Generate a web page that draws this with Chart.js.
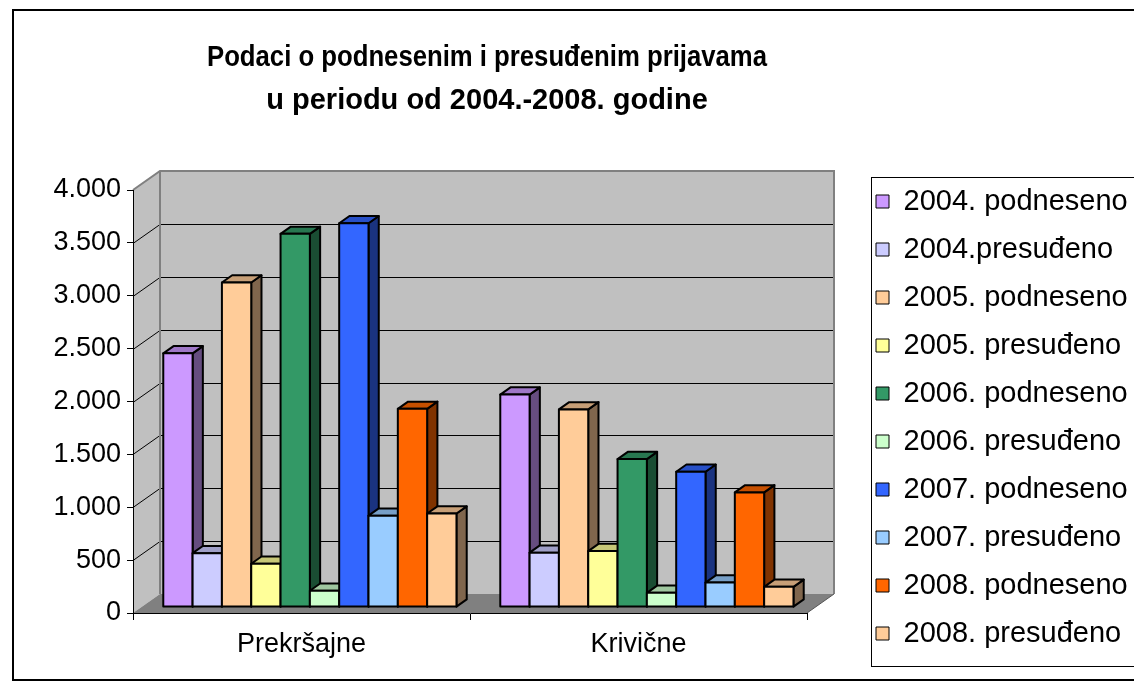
<!DOCTYPE html>
<html>
<head>
<meta charset="utf-8">
<script src="https://cdn.jsdelivr.net/npm/chart.js@4.4.1/dist/chart.umd.min.js"></script>
<style>
  html, body { margin: 0; padding: 0; background: #fff; overflow: hidden; }
  #chart { display: block; }
</style>
</head>
<body>
<canvas id="chart" width="1160" height="688"></canvas>
<script>
const categories = ['Prekršajne', 'Krivične'];
const seriesNames = [
  '2004. podneseno', '2004.presuđeno',
  '2005. podneseno', '2005. presuđeno',
  '2006. podneseno', '2006. presuđeno',
  '2007. podneseno', '2007. presuđeno',
  '2008. podneseno', '2008. presuđeno'
];
// one array per series: [Prekršajne, Krivične]
const podneseno2004 = [2400, 2010];
const presudjeno2004 = [510, 515];
const podneseno2005 = [3070, 1870];
const presudjeno2005 = [410, 530];
const podneseno2006 = [3530, 1400];
const presudjeno2006 = [155, 135];
const podneseno2007 = [3630, 1280];
const presudjeno2007 = [865, 232];
const podneseno2008 = [1875, 1085];
const presudjeno2008 = [885, 192];
const seriesColors = ['#CC99FF', '#CCCCFF', '#FFCC99', '#FFFF99', '#339966',
                      '#CCFFCC', '#3366FF', '#99CCFF', '#FF6600', '#FFCC99'];
const yTicks = { min: 0, max: 4000, step: 500 };

const FONT = 'Arial, "Liberation Sans", sans-serif';
Chart.defaults.font.family = FONT;

const allSeries = [podneseno2004, presudjeno2004, podneseno2005, presudjeno2005,
  podneseno2006, presudjeno2006, podneseno2007, presudjeno2007, podneseno2008, presudjeno2008];

// oblique depth of the 3d box, bars sit in the middle of it
const depth = { dx: 27, dy: -19 };
const barNear = 0.31, barFar = 0.69;

function shade(hex, f) {
  const n = parseInt(hex.slice(1), 16);
  const r = Math.round(((n >> 16) & 255) * f);
  const g = Math.round(((n >> 8) & 255) * f);
  const b = Math.round((n & 255) * f);
  return `rgb(${r},${g},${b})`;
}

function poly(ctx, pts) {
  ctx.beginPath();
  ctx.moveTo(pts[0][0], pts[0][1]);
  for (let i = 1; i < pts.length; i++) ctx.lineTo(pts[i][0], pts[i][1]);
  ctx.closePath();
}

const fmt = v => String(v).replace(/\B(?=(\d{3})+(?!\d))/g, '.');

const box3d = {
  id: 'box3d',
  afterLayout(chart) {
    // put title and legend where excel had them
    const t = chart.titleBlock;
    t.left = 207; t.right = 767; t.width = 560;
    const lg = chart.legend;
    lg.left = 857; lg.top = 168; lg.right = chart.width; lg.bottom = chart.height;
    lg.width = lg.right - lg.left; lg.height = lg.bottom - lg.top;
  },
  beforeDraw(chart) {
    const ctx = chart.ctx, a = chart.chartArea, ys = chart.scales.y;
    const { dx, dy } = depth;
    ctx.save();
    ctx.fillStyle = '#fff';
    ctx.fillRect(0, 0, chart.width, chart.height);
    ctx.strokeStyle = '#000';
    ctx.lineWidth = 2;
    ctx.strokeRect(13, 10, chart.width, 670);

    // back wall + side wall
    ctx.fillStyle = '#c0c0c0';
    ctx.fillRect(a.left + dx, a.top + dy, a.width, a.height);
    poly(ctx, [[a.left, a.top], [a.left + dx, a.top + dy], [a.left + dx, a.bottom + dy], [a.left, a.bottom]]);
    ctx.fill();

    // gridlines on both walls
    ctx.strokeStyle = '#000';
    ctx.lineWidth = 1;
    ys.ticks.forEach(t => {
      if (t.value <= ys.min || t.value >= ys.max) return;
      const py = Math.round(ys.getPixelForValue(t.value)) + 0.5;
      ctx.beginPath();
      ctx.moveTo(a.left, py);
      ctx.lineTo(a.left + dx, py + dy);
      ctx.lineTo(a.right + dx, py + dy);
      ctx.stroke();
    });

    // wall edges
    ctx.strokeStyle = '#808080';
    ctx.lineWidth = 2;
    ctx.beginPath();
    ctx.moveTo(a.left, a.top);
    ctx.lineTo(a.left + dx, a.top + dy);
    ctx.lineTo(a.right + dx, a.top + dy);
    ctx.lineTo(a.right + dx, a.bottom + dy);
    ctx.moveTo(a.left + dx, a.top + dy);
    ctx.lineTo(a.left + dx, a.bottom + dy);
    ctx.stroke();

    // floor
    ctx.fillStyle = '#808080';
    poly(ctx, [[a.left, a.bottom], [a.right, a.bottom], [a.right + dx, a.bottom + dy], [a.left + dx, a.bottom + dy]]);
    ctx.fill();
    ctx.strokeStyle = '#555';
    ctx.lineWidth = 1;
    ctx.beginPath();
    ctx.moveTo(a.right, a.bottom);
    ctx.lineTo(a.right + dx, a.bottom + dy);
    ctx.stroke();
    ctx.restore();
  },
  beforeDatasetDraw() {
    return false;
  },
  afterDatasetsDraw(chart) {
    const ctx = chart.ctx;
    const fx = depth.dx * barNear, fy = depth.dy * barNear;
    const bx = depth.dx * (barFar - barNear), by = depth.dy * (barFar - barNear);
    ctx.save();
    ctx.strokeStyle = '#000';
    ctx.lineWidth = 2;
    ctx.lineJoin = 'round';
    categories.forEach((c, i) => {
      chart.data.datasets.forEach((ds, d) => {
        const bar = chart.getDatasetMeta(d).data[i];
        const { x, y, base, width } = bar.getProps(['x', 'y', 'base', 'width'], true);
        const L = x - width / 2 + fx, R = x + width / 2 + fx;
        const T = y + fy, B = base + fy;
        const col = ds.backgroundColor;

        poly(ctx, [[R, T], [R + bx, T + by], [R + bx, B + by], [R, B]]);
        ctx.fillStyle = shade(col, 0.5);
        ctx.fill(); ctx.stroke();

        poly(ctx, [[L, T], [R, T], [R + bx, T + by], [L + bx, T + by]]);
        ctx.fillStyle = shade(col, 0.78);
        ctx.fill(); ctx.stroke();

        poly(ctx, [[L, T], [R, T], [R, B], [L, B]]);
        ctx.fillStyle = col;
        ctx.fill(); ctx.stroke();
      });
    });
    ctx.restore();
  },
  afterDraw(chart) {
    const ctx = chart.ctx;
    ctx.save();
    ctx.strokeStyle = '#000';
    ctx.lineWidth = 1;
    ctx.strokeRect(871.5, 177.5, 400, 489);
    ctx.restore();
  }
};

new Chart(document.getElementById('chart'), {
  type: 'bar',
  data: {
    labels: categories,
    datasets: seriesNames.map((name, i) => ({
      label: name,
      data: allSeries[i],
      backgroundColor: seriesColors[i],
      borderColor: '#000',
      borderWidth: 1
    }))
  },
  options: {
    responsive: false,
    animation: false,
    devicePixelRatio: 1,
    layout: { padding: { left: 0, top: 0, right: 353, bottom: 0 } },
    datasets: { bar: { categoryPercentage: 0.87, barPercentage: 1.0 } },
    plugins: {
      title: {
        display: true,
        text: ['Podaci o podnesenim i presuđenim prijavama', 'u periodu od 2004.-2008. godine'],
        color: '#000',
        font: { size: 29, weight: 'bold', lineHeight: 1.48 },
        padding: { top: 36.5, bottom: 67.7 }
      },
      legend: {
        position: 'chartArea',
        align: 'start',
        labels: {
          boxWidth: 13,
          boxHeight: 13,
          padding: 19,
          color: '#000',
          font: { size: 29 }
        }
      },
      tooltip: { enabled: false }
    },
    scales: {
      x: {
        type: 'category',
        offset: true,
        afterFit: s => { s.height = 75; },
        grid: { drawOnChartArea: false, drawTicks: true, tickLength: 7, color: '#000', offset: true },
        border: { display: true, color: '#000', width: 1 },
        ticks: { color: '#000', font: { size: 27 }, padding: 8 }
      },
      y: {
        min: yTicks.min,
        max: yTicks.max,
        afterFit: s => { s.width = 133; },
        grid: { drawOnChartArea: false, drawTicks: true, tickLength: 6, color: '#000' },
        border: { display: true, color: '#000', width: 1 },
        ticks: { stepSize: yTicks.step, color: '#000', font: { size: 27 }, padding: 6, callback: v => fmt(v) }
      }
    }
  },
  plugins: [box3d]
});
</script>
</body>
</html>
